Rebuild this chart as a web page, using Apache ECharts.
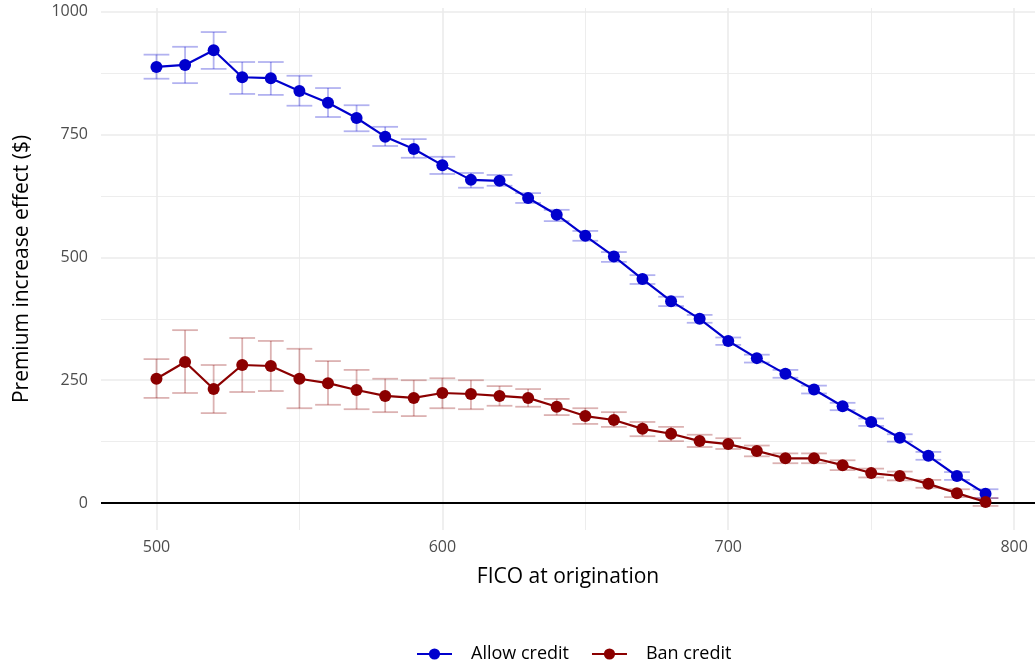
<!DOCTYPE html>
<html>
<head>
<meta charset="utf-8">
<script src="https://cdn.jsdelivr.net/npm/echarts@6/dist/echarts.min.js"></script>
<style>
  html, body { margin: 0; padding: 0; background: #fff; }
  #chart { width: 1035px; height: 666px; }
</style>
</head>
<body>
<div id="chart"></div>
<script>
const fico = [500, 510, 520, 530, 540, 550, 560, 570, 580, 590,
  600, 610, 620, 630, 640, 650, 660, 670, 680, 690,
  700, 710, 720, 730, 740, 750, 760, 770, 780, 790];

// Allow credit: estimate and 95% interval
const allowMean = [888, 892, 922, 867, 865, 839, 815, 784, 746, 721,
  688, 658, 656, 621, 587, 544, 502, 456, 411, 375,
  330, 295, 263, 231, 197, 165, 133, 96, 55, 19];
const allowLo = [864, 855, 884, 833, 831, 809, 786, 757, 727, 703,
  670, 642, 646, 611, 574, 534, 491, 446, 401, 367,
  322, 286, 255, 223, 189, 157, 125, 88, 47, 10];
const allowHi = [913, 929, 959, 898, 898, 870, 845, 810, 766, 741,
  705, 672, 668, 631, 597, 554, 511, 464, 420, 383,
  337, 302, 271, 239, 204, 172, 140, 104, 63, 28];

// Ban credit
const banMean = [253, 287, 232, 281, 279, 253, 244, 230, 218, 214,
  224, 222, 218, 214, 196, 177, 169, 151, 141, 126,
  120, 106, 91, 91, 77, 61, 55, 39, 20, 2];
const banLo = [214, 224, 183, 226, 228, 193, 200, 191, 185, 177,
  193, 191, 198, 196, 179, 161, 155, 136, 126, 114,
  110, 95, 81, 81, 67, 52, 46, 31, 12, -6];
const banHi = [293, 352, 281, 336, 330, 314, 289, 271, 253, 250,
  254, 250, 238, 232, 212, 193, 185, 165, 155, 139,
  132, 117, 101, 101, 87, 70, 64, 47, 28, 10];

const xTicks = [500, 600, 700, 800];
const xMinor = [550, 650, 750];
const yTicks = [0, 250, 500, 750, 1000];
const yMinor = [125, 375, 625, 875];

const font = 'Open Sans';
const gridColor = '#ebebeb';

const zip = (a, b) => a.map((v, i) => [v, b[i]]);
const zip3 = (a, b, c) => a.map((v, i) => [v, b[i], c[i]]);

// error bar with caps, half width in data units
const errorBar = (color) => function (params, api) {
  const x = api.value(0);
  const lo = api.value(1);
  const hi = api.value(2);
  const top = api.coord([x, hi]);
  const bot = api.coord([x, lo]);
  const half = api.coord([x + 4.5, hi])[0] - top[0];
  const style = { stroke: color, lineWidth: 1.8 };
  return {
    type: 'group',
    children: [
      { type: 'line', shape: { x1: top[0], y1: top[1], x2: bot[0], y2: bot[1] }, style },
      { type: 'line', shape: { x1: top[0] - half, y1: top[1], x2: top[0] + half, y2: top[1] }, style },
      { type: 'line', shape: { x1: bot[0] - half, y1: bot[1], x2: bot[0] + half, y2: bot[1] }, style }
    ]
  };
};

const gridLines = [
  ...yTicks.filter(v => v !== 0).map(v => ({ yAxis: v, lineStyle: { width: 1.6 } })),
  ...yMinor.map(v => ({ yAxis: v, lineStyle: { width: 0.9 } })),
  ...xTicks.map(v => ({ xAxis: v, lineStyle: { width: 1.6 } })),
  ...xMinor.map(v => ({ xAxis: v, lineStyle: { width: 0.9 } }))
];

const chart = echarts.init(document.getElementById('chart'));

chart.setOption({
  animation: false,
  textStyle: { fontFamily: font },
  grid: { left: 101, right: 0, top: 8, bottom: 136 },
  xAxis: {
    type: 'value',
    min: 480.6,
    max: 807.3,
    name: 'FICO at origination',
    nameLocation: 'middle',
    nameGap: 37,
    nameTextStyle: { fontSize: 21, color: '#000', fontFamily: font },
    axisLine: { show: false },
    axisTick: { show: false },
    splitLine: { show: false },
    axisLabel: { customValues: xTicks, fontSize: 16, color: '#4d4d4d', margin: 9 }
  },
  yAxis: {
    type: 'value',
    min: -55,
    max: 1008,
    name: 'Premium increase effect ($)',
    nameLocation: 'middle',
    nameGap: 68,
    nameTextStyle: { fontSize: 21, color: '#000', fontFamily: font },
    axisLine: { show: false },
    axisTick: { show: false },
    splitLine: { show: false },
    axisLabel: {
      customValues: yTicks,
      fontSize: 16,
      color: '#4d4d4d',
      margin: 13,
      formatter: (v) => String(v)
    }
  },
  legend: {
    data: ['Allow credit', 'Ban credit'],
    top: 640,
    left: 411,
    itemWidth: 35,
    itemHeight: 14,
    itemGap: 22,
    textStyle: { fontSize: 18, color: '#000', fontFamily: font, padding: [0, 0, 0, 14] }
  },
  series: [
    {
      name: 'grid',
      type: 'line',
      data: [],
      silent: true,
      zlevel: 0,
      z: 0,
      markLine: {
        silent: true,
        symbol: 'none',
        label: { show: false },
        lineStyle: { color: gridColor, type: 'solid' },
        data: gridLines
      }
    },
    {
      name: 'zero',
      type: 'line',
      data: [],
      silent: true,
      zlevel: 0,
      z: 1,
      markLine: {
        silent: true,
        symbol: 'none',
        label: { show: false },
        lineStyle: { color: '#000', type: 'solid', width: 1.8 },
        data: [{ yAxis: 0 }]
      }
    },
    {
      name: 'Allow credit CI',
      type: 'custom',
      zlevel: 1,
      z: 2,
      renderItem: errorBar('rgba(0, 0, 205, 0.3)'),
      encode: { x: 0, y: [1, 2] },
      data: zip3(fico, allowLo, allowHi)
    },
    {
      name: 'Ban credit CI',
      type: 'custom',
      zlevel: 1,
      z: 2,
      renderItem: errorBar('rgba(139, 0, 0, 0.3)'),
      encode: { x: 0, y: [1, 2] },
      data: zip3(fico, banLo, banHi)
    },
    {
      name: 'Allow credit',
      type: 'line',
      zlevel: 1,
      z: 3,
      data: zip(fico, allowMean),
      symbol: 'circle',
      symbolSize: 12,
      color: '#0000cd',
      lineStyle: { color: '#0000cd', width: 2.2 },
      itemStyle: { color: '#0000cd' }
    },
    {
      name: 'Ban credit',
      type: 'line',
      zlevel: 1,
      z: 3,
      data: zip(fico, banMean),
      symbol: 'circle',
      symbolSize: 12,
      color: '#8b0000',
      lineStyle: { color: '#8b0000', width: 2.2 },
      itemStyle: { color: '#8b0000' }
    }
  ]
});
</script>
</body>
</html>
